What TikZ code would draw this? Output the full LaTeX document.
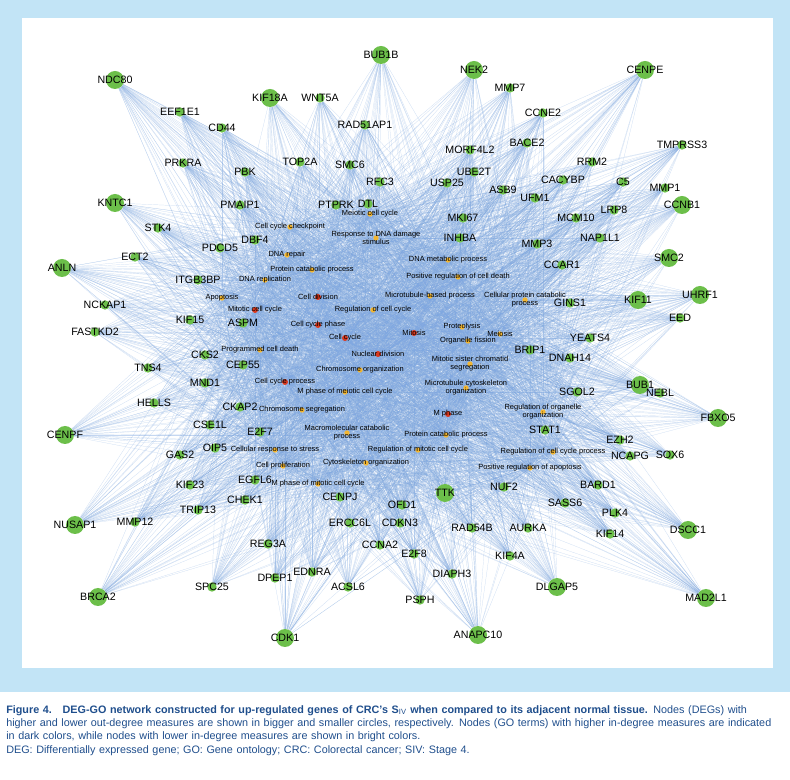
\documentclass[tikz,border=0pt]{standalone}
\usepackage{fontspec}
\setmainfont{Liberation Sans}
\usetikzlibrary{backgrounds}
\definecolor{frameblue}{HTML}{C2E4F6}
\definecolor{genegreen}{HTML}{6CBF4A}
\definecolor{edgeblue}{HTML}{7FA8E0}
\definecolor{goyellow}{HTML}{F2B632}
\definecolor{gored}{HTML}{D9381E}
\definecolor{capblue}{HTML}{1F4E8C}
\tikzset{
  big/.style={circle,fill=genegreen,minimum size=13.5pt,inner sep=0pt},
  small/.style={circle,fill=genegreen,minimum size=7pt,inner sep=0pt},
  lo/.style={circle,fill=goyellow,minimum size=4pt,inner sep=0pt},
  hi/.style={circle,fill=gored,minimum size=4.5pt,inner sep=0pt},
  edge/.style={draw=edgeblue,line width=0.15pt,opacity=0.45},
  gtext/.style={font=\fontsize{8}{9}\selectfont,inner sep=0pt},
  gotext/.style={font=\fontsize{5.6}{6}\selectfont,align=center,inner sep=0pt}
}
\def\genes{BUB1B,NEK2,CENPE,NDC80,KIF18A,KNTC1,CCNB1,SMC2,ANLN,UHRF1,KIF11,CENPF,FBXO5,BUB1,NUSAP1,BRCA2,DSCC1,MAD2L1,CDK1,ANAPC10,DLGAP5,TTK,WNT5A,MMP7,CCNE2,EEF1E1,CD44,RAD51AP1,BACE2,TMPRSS3,PRKRA,MORF4L2,RRM2,TOP2A,SMC6,UBE2T,CACYBP,C5,MMP1,PBK,RFC3,USP25,ASB9,UFM1,PMAIP1,PTPRK,DTL,MCM10,LRP8,STK4,MKI67,ECT2,PDCD5,DBF4,ITGB3BP,INHBA,MMP3,NAP1L1,CCAR1,NCKAP1,FASTKD2,KIF15,ASPM,GINS1,EED,YEATS4,CKS2,CEP55,BRIP1,DNAH14,TNS4,MND1,HELLS,SGOL2,NEBL,CKAP2,STAT1,EZH2,SOX6,CSE1L,E2F7,NCAPG,OIP5,GAS2,BARD1,EGFL6,KIF23,NUF2,CHEK1,CENPJ,OFD1,PLK4,SASS6,TRIP13,MMP12,ERCC6L,CDKN3,RAD54B,AURKA,KIF14,REG3A,CCNA2,E2F8,KIF4A,EDNRA,DIAPH3,DPEP1,ACSL6,SPC25,PSPH}
\begin{document}
\begin{tikzpicture}[x=0.75pt,y=-0.75pt]
\useasboundingbox (0,0) rectangle (790,780);
% genes
\foreach \n/\x/\y/\s in {BUB1B/381/55/big,NEK2/474/70/big,CENPE/645/70/big,NDC80/115/80/big,
  KIF18A/270/98/big,KNTC1/115/203/big,CCNB1/682/205/big,SMC2/669/258/big,ANLN/62/268/big,
  UHRF1/700/295/big,KIF11/638/300/big,CENPF/65/435/big,FBXO5/718/418/big,BUB1/640/385/big,
  NUSAP1/75/525/big,BRCA2/98/597/big,DSCC1/688/530/big,MAD2L1/706/598/big,CDK1/285/638/big,
  ANAPC10/478/635/big,DLGAP5/557/587/big,TTK/445/493/big,
  WNT5A/320/98/small,MMP7/510/88/small,CCNE2/543/113/small,EEF1E1/180/112/small,CD44/222/128/small,
  RAD51AP1/365/125/small,BACE2/527/143/small,TMPRSS3/682/145/small,PRKRA/183/163/small,
  MORF4L2/470/150/small,RRM2/592/162/small,TOP2A/300/162/small,SMC6/350/165/small,
  UBE2T/474/172/small,CACYBP/563/180/small,C5/623/182/small,MMP1/665/188/small,PBK/245/172/small,
  RFC3/380/182/small,USP25/447/183/small,ASB9/503/190/small,UFM1/535/198/small,PMAIP1/240/205/small,
  PTPRK/336/205/small,DTL/368/204/small,MCM10/576/218/small,LRP8/614/210/small,STK4/158/228/small,
  MKI67/463/218/small,ECT2/135/257/small,PDCD5/220/248/small,DBF4/255/240/small,ITGB3BP/198/280/small,
  INHBA/460/238/small,MMP3/537/244/small,NAP1L1/600/238/small,CCAR1/562/265/small,NCKAP1/105/305/small,
  FASTKD2/95/332/small,KIF15/190/320/small,ASPM/243/323/small,GINS1/570/303/small,EED/680/318/small,
  YEATS4/590/338/small,CKS2/205/355/small,CEP55/243/365/small,BRIP1/530/350/small,DNAH14/570/358/small,
  TNS4/148/368/small,MND1/205/383/small,HELLS/154/403/small,SGOL2/577/392/small,NEBL/660/393/small,
  CKAP2/240/407/small,STAT1/545/430/small,EZH2/620/440/small,SOX6/670/455/small,CSE1L/210/425/small,
  E2F7/260/432/small,NCAPG/630/456/small,OIP5/215/448/small,GAS2/180/455/small,BARD1/598/485/small,
  EGFL6/255/480/small,KIF23/190/485/small,NUF2/504/487/small,CHEK1/245/500/small,CENPJ/340/497/small,
  OFD1/402/505/small,PLK4/615/513/small,SASS6/565/503/small,TRIP13/198/510/small,MMP12/135/522/small,
  ERCC6L/350/523/small,CDKN3/400/523/small,RAD54B/472/528/small,AURKA/528/528/small,KIF14/610/534/small,
  REG3A/268/544/small,CCNA2/380/545/small,E2F8/414/554/small,KIF4A/510/556/small,EDNRA/312/572/small,
  DIAPH3/452/574/small,DPEP1/275/578/small,ACSL6/348/587/small,SPC25/212/587/small,PSPH/420/600/small}
  \node[\s] (\n) at (\x,\y) {};
% GO terms
\foreach \n/\x/\y/\c/\t in {g1/370/214/lo/Meiotic cell cycle,g2/290/227/lo/Cell cycle checkpoint,
  g3/376/238/lo/{Response to DNA damage\\stimulus},g4/287/255/lo/DNA repair,g5/448/260/lo/DNA metabolic process,
  g6/312/270/lo/Protein catabolic process,g7/458/277/lo/Positive regulation of cell death,
  g8/265/280/lo/DNA replication,g9/222/298/lo/Apoptosis,g10/318/297/hi/Cell division,
  g11/430/296/lo/Microtubule-based process,g12/525/300/lo/{Cellular protein catabolic\\process},
  g13/255/310/hi/Mitotic cell cycle,g14/373/310/lo/Regulation of cell cycle,g15/318/325/hi/Cell cycle phase,
  g16/462/327/lo/Proteolysis,g17/468/341/lo/Organelle fission,g18/500/334/lo/Meiosis,
  g19/345/338/hi/Cell cycle,g20/414/333/hi/Mitosis,g21/260/350/lo/Programmed cell death,
  g22/378/354/hi/Nuclear division,g23/470/364/lo/{Mitotic sister chromatid\\segregation},
  g24/360/370/lo/Chromosome organization,g25/285/382/hi/Cell cycle process,
  g26/345/392/lo/M phase of meiotic cell cycle,g27/466/388/lo/{Microtubule cytoskeleton\\organization},
  g28/302/410/lo/Chromosome segregation,g29/448/414/hi/M phase,
  g30/543/412/lo/{Regulation of organelle\\organization},g31/347/433/lo/{Macromolecular catabolic\\process},
  g32/446/435/lo/Protein catabolic process,g33/275/450/lo/Cellular response to stress,
  g34/418/450/lo/Regulation of mitotic cell cycle,g35/553/452/lo/Regulation of cell cycle process,
  g36/283/466/lo/Cell proliferation,g37/366/463/lo/Cytoskeleton organization,
  g38/530/468/lo/Positive regulation of apoptosis,g39/318/484/lo/M phase of mitotic cell cycle}
  \node[\c,label={[gotext]center:\t}] (\n) at (\x,\y) {};
% frame and edges
\begin{scope}[on background layer]
\fill[frameblue] (0,0) rectangle (790,692);
\fill[white] (22,18) rectangle (773,668);
\foreach \g in \genes
  \foreach \t in {1,...,39}
    \draw[edge] (\g) -- (g\t);
\end{scope}
\foreach \g in \genes
  \node[gtext] at (\g) {\g};
% caption
\node[anchor=north west,text width=580pt,inner sep=0pt,text=capblue,
  font=\fontsize{8.1}{10}\selectfont] (cap) at (6,705)
  {\textbf{Figure 4.\quad DEG-GO network constructed for up-regulated genes of CRC's S$_{\mathrm{IV}}$ when compared to its adjacent normal tissue.} Nodes (DEGs) with higher and lower out-degree measures are shown in bigger and smaller circles, respectively. Nodes (GO terms) with higher in-degree measures are indicated in dark colors, while nodes with lower in-degree measures are shown in bright colors.\\
  DEG: Differentially expressed gene; GO: Gene ontology; CRC: Colorectal cancer; SIV: Stage 4.};
\end{tikzpicture}
\end{document}
